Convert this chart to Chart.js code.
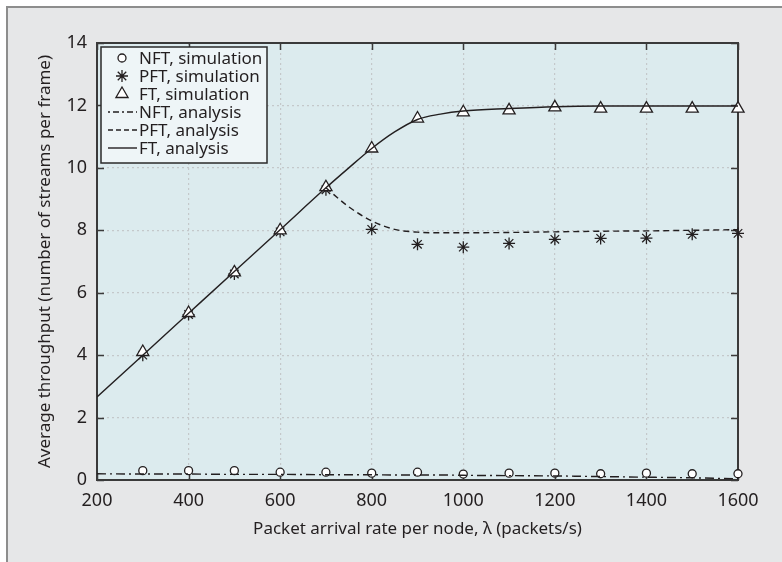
<!DOCTYPE html>
<html>
<head>
<meta charset="utf-8">
<script src="https://cdn.jsdelivr.net/npm/chart.js@4"></script>
<style>
  html, body { margin: 0; padding: 0; background: #ffffff; }
  #panel { position: absolute; left: 6px; top: 6px; width: 782px; height: 562px;
           background: #e6e7e8; border-left: 2px solid #8d8d8d; border-top: 2px solid #8d8d8d; }
  #c { position: absolute; left: 0; top: 0; }
</style>
</head>
<body>
<div id="panel"></div>
<canvas id="c" width="782" height="562"></canvas>
<script>
// simulation points
const simX = [300, 400, 500, 600, 700, 800, 900, 1000, 1100, 1200, 1300, 1400, 1500, 1600];
const nftSim = [0.3, 0.3, 0.3, 0.25, 0.25, 0.22, 0.25, 0.19, 0.22, 0.22, 0.2, 0.22, 0.2, 0.2];
const pftSim = [4.0, 5.3, 6.6, 7.95, 9.3, 8.03, 7.55, 7.46, 7.58, 7.71, 7.74, 7.75, 7.87, 7.9];
const ftSim  = [4.1, 5.35, 6.65, 8.0, 9.38, 10.62, 11.58, 11.78, 11.84, 11.94, 11.9, 11.9, 11.9, 11.9];

// analysis curves (PFT follows the FT line below 700, so it starts there)
const anaX   = [200, 300, 400, 500, 600, 700, 750, 800, 850, 900, 950, 1000, 1100, 1200, 1300, 1400, 1500, 1600];
const nftAna = [0.2, 0.19, 0.19, 0.18, 0.18, 0.17, 0.17, 0.17, 0.16, 0.16, 0.16, 0.15, 0.14, 0.13, 0.11, 0.09, 0.07, 0.04];
const ftAna  = [2.66, 4.0, 5.34, 6.68, 8.02, 9.36, 10.0, 10.62, 11.15, 11.55, 11.72, 11.82, 11.9, 11.96, 11.98, 11.98, 11.98, 11.98];
const pftX   = [700, 750, 800, 850, 900, 950, 1000, 1100, 1200, 1300, 1400, 1500, 1600];
const pftAna = [9.36, 8.75, 8.3, 8.03, 7.94, 7.92, 7.92, 7.93, 7.95, 7.97, 7.98, 8.0, 8.02];

const xTicks = [200, 400, 600, 800, 1000, 1200, 1400, 1600];
const yTicks = [0, 2, 4, 6, 8, 10, 12, 14];

const ink = '#231f20';
const fontName = '"Noto Sans", sans-serif';

function pts(xs, ys) {
    return xs.map((x, i) => ({ x: x, y: ys[i] }));
}

const legendRows = [
    { label: 'NFT, simulation', marker: 'circle' },
    { label: 'PFT, simulation', marker: 'star' },
    { label: 'FT, simulation', marker: 'triangle' },
    { label: 'NFT, analysis', dash: [2, 3, 6, 3] },
    { label: 'PFT, analysis', dash: [5, 3] },
    { label: 'FT, analysis', dash: [] }
];

const frameAndLegend = {
    id: 'frameAndLegend',
    beforeDraw(chart) {
        const { ctx, chartArea: a } = chart;
        ctx.save();
        ctx.fillStyle = '#dcebee';
        ctx.fillRect(a.left, a.top, a.right - a.left, a.bottom - a.top);
        ctx.restore();
    },
    beforeDatasetsDraw(chart) {
        const { ctx, chartArea: a, scales } = chart;
        ctx.save();
        ctx.strokeStyle = '#3a3a3a';
        ctx.lineWidth = 1.5;
        ctx.beginPath();
        xTicks.forEach(v => {
            const px = Math.round(scales.x.getPixelForValue(v)) + 0.5;
            ctx.moveTo(px, a.bottom); ctx.lineTo(px, a.bottom - 7);
            ctx.moveTo(px, a.top); ctx.lineTo(px, a.top + 7);
        });
        yTicks.forEach(v => {
            const py = Math.round(scales.y.getPixelForValue(v)) + 0.5;
            ctx.moveTo(a.left, py); ctx.lineTo(a.left + 7, py);
            ctx.moveTo(a.right, py); ctx.lineTo(a.right - 7, py);
        });
        ctx.stroke();
        ctx.lineWidth = 2;
        ctx.strokeRect(a.left, a.top, a.right - a.left, a.bottom - a.top);
        ctx.restore();
    },
    afterDatasetsDraw(chart) {
        const { ctx, chartArea: a } = chart;
        const bx = a.left + 4, by = a.top + 4, bw = 166, bh = 116;
        ctx.save();
        ctx.fillStyle = '#eef5f7';
        ctx.fillRect(bx, by, bw, bh);
        ctx.strokeStyle = '#2a2a2a';
        ctx.lineWidth = 1.5;
        ctx.strokeRect(bx, by, bw, bh);
        ctx.font = '17px ' + fontName;
        ctx.textBaseline = 'middle';
        ctx.fillStyle = ink;
        legendRows.forEach((r, i) => {
            const y = by + 11 + i * 18;
            if (r.marker) {
                const rad = r.marker === 'circle' ? 4 : r.marker === 'star' ? 6 : 7;
                ctx.save();
                ctx.fillStyle = r.marker === 'star' ? ink : '#ffffff';
                ctx.strokeStyle = ink;
                ctx.lineWidth = 1.3;
                Chart.helpers.drawPoint(ctx, { pointStyle: r.marker, radius: rad, borderWidth: 1.3, rotation: 0 }, bx + 21, y);
                ctx.restore();
            } else {
                ctx.save();
                ctx.strokeStyle = ink;
                ctx.lineWidth = 1.4;
                ctx.setLineDash(r.dash);
                ctx.beginPath();
                ctx.moveTo(bx + 7, y); ctx.lineTo(bx + 36, y);
                ctx.stroke();
                ctx.restore();
            }
            ctx.fillText(r.label, bx + 38, y + 1);
        });
        ctx.restore();
    }
};

const lineDs = (label, xs, ys, dash) => ({
    type: 'line', label: label, data: pts(xs, ys),
    borderColor: ink, borderWidth: 1.4, borderDash: dash,
    pointRadius: 0, fill: false, cubicInterpolationMode: 'monotone'
});

const simDs = (label, ys, style, radius, fill) => ({
    type: 'scatter', label: label, data: pts(simX, ys),
    pointStyle: style, pointRadius: radius, pointBorderWidth: 1.3,
    pointBackgroundColor: fill, pointBorderColor: ink, borderColor: ink,
    backgroundColor: fill, showLine: false, clip: false
});

new Chart(document.getElementById('c'), {
    data: {
        datasets: [
            lineDs('NFT, analysis', anaX, nftAna, [9, 4, 2, 4]),
            lineDs('PFT, analysis', pftX, pftAna, [6, 4]),
            lineDs('FT, analysis', anaX, ftAna, []),
            simDs('FT, simulation', ftSim, 'triangle', 7, '#ffffff'),
            simDs('PFT, simulation', pftSim, 'star', 6, ink),
            simDs('NFT, simulation', nftSim, 'circle', 4, '#ffffff')
        ]
    },
    options: {
        responsive: false,
        animation: false,
        layout: { padding: { left: 0, top: 43, right: 44, bottom: 0 } },
        plugins: { legend: { display: false }, tooltip: { enabled: false } },
        scales: {
            x: {
                type: 'linear', min: 200, max: 1600,
                afterBuildTicks: s => { s.ticks = xTicks.map(v => ({ value: v })); },
                afterFit: s => { s.height = 82; },
                ticks: { font: { family: fontName, size: 18 }, color: ink, padding: 10,
                         callback: v => String(v) },
                grid: { color: '#c4c8ca', lineWidth: 1.2, drawTicks: false },
                border: { display: false, dash: [2, 3] },
                title: { display: true, text: 'Packet arrival rate per node, \u03bb (packets/s)',
                         font: { family: fontName, size: 17 }, color: ink, padding: { top: 0, bottom: 23 } }
            },
            y: {
                type: 'linear', min: 0, max: 14,
                afterBuildTicks: s => { s.ticks = yTicks.map(v => ({ value: v })); },
                afterFit: s => { s.width = 97; },
                ticks: { font: { family: fontName, size: 18 }, color: ink, padding: 10,
                         callback: v => String(v) },
                grid: { color: '#c4c8ca', lineWidth: 1.2, drawTicks: false },
                border: { display: false, dash: [2, 3] },
                title: { display: true, text: 'Average throughput (number of streams per frame)',
                         font: { family: fontName, size: 17 }, color: ink, padding: { top: 35, bottom: 0 } }
            }
        }
    },
    plugins: [frameAndLegend]
});
</script>
</body>
</html>
